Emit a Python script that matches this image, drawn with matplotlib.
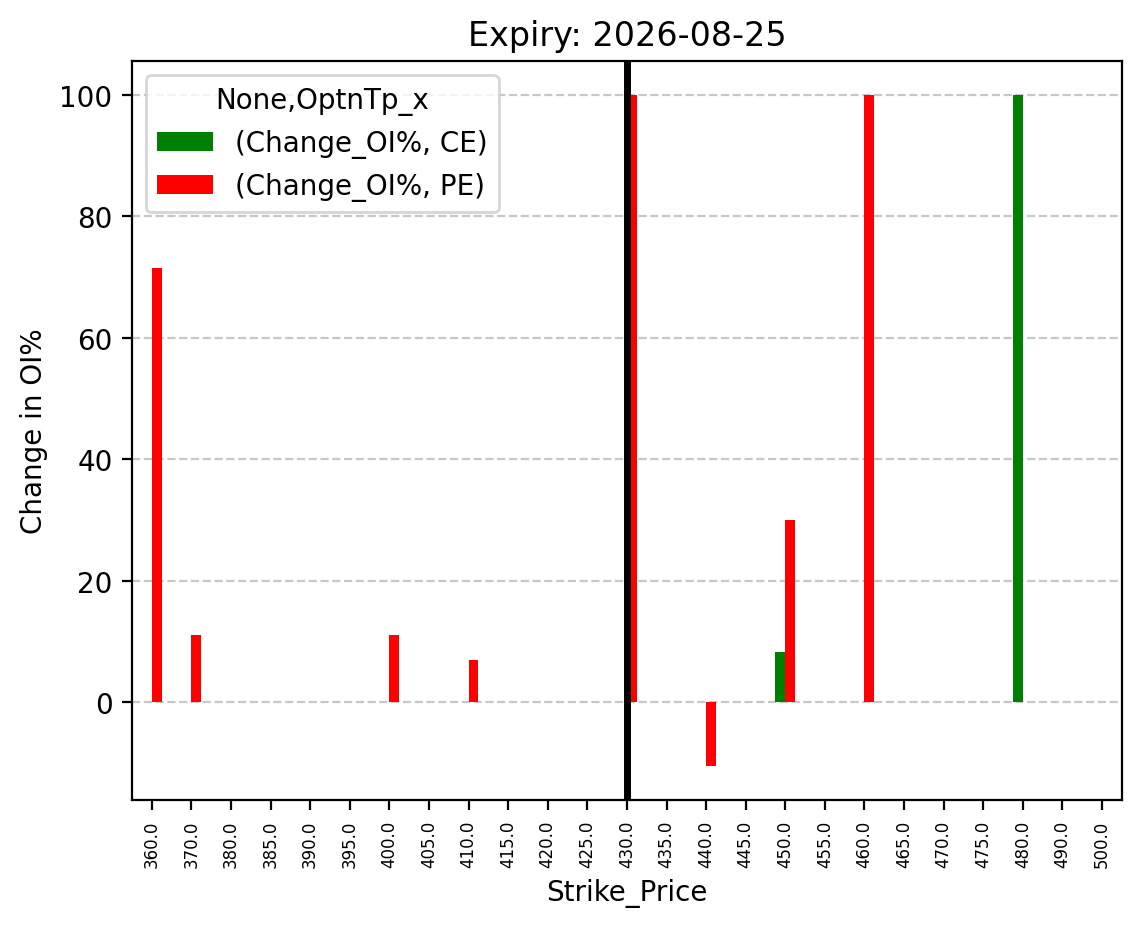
import matplotlib
matplotlib.use("Agg")
import matplotlib.pyplot as plt
import numpy as np
import pandas as pd

strikes = [360.0, 370.0, 380.0, 385.0, 390.0, 395.0, 400.0, 405.0, 410.0, 415.0,
           420.0, 425.0, 430.0, 435.0, 440.0, 445.0, 450.0, 455.0, 460.0, 465.0,
           470.0, 475.0, 480.0, 490.0, 500.0]
nan = np.nan
ce = [nan, nan, nan, nan, nan, nan, nan, nan, nan, nan,
      nan, nan, nan, nan, nan, nan, 8.33, nan, nan, nan,
      nan, nan, 100.0, nan, nan]
pe = [71.43, 11.11, nan, nan, nan, nan, 11.11, nan, 7.0, nan,
      nan, nan, 100.0, nan, -10.5, nan, 30.0, nan, 100.0, nan,
      nan, nan, nan, nan, nan]
spot_strike = 430.0
expiry = "2026-08-25"

cols = pd.MultiIndex.from_tuples([("Change_OI%", "CE"), ("Change_OI%", "PE")],
                                 names=[None, "OptnTp_x"])
df = pd.DataFrame(np.column_stack([ce, pe]),
                  index=pd.Index(strikes, name="Strike_Price"), columns=cols)

fig, ax = plt.subplots(figsize=(5.715, 4.64), dpi=200)
fig.subplots_adjust(left=0.1155, right=0.9815, top=0.933, bottom=0.137)
df.plot(kind="bar", ax=ax, color=["green", "red"])

ax.axvline(strikes.index(spot_strike), color="black", linewidth=2.5)
ax.grid(axis="y", linestyle="--", alpha=0.7)
ax.set_axisbelow(True)
ax.set_title("Expiry: " + expiry)
ax.set_xlabel("Strike_Price")
ax.set_ylabel("Change in OI%")
ax.tick_params(axis="x", labelsize=6, rotation=90)
ax.legend(loc="upper left", title="None,OptnTp_x")

fig.savefig("out.png")
